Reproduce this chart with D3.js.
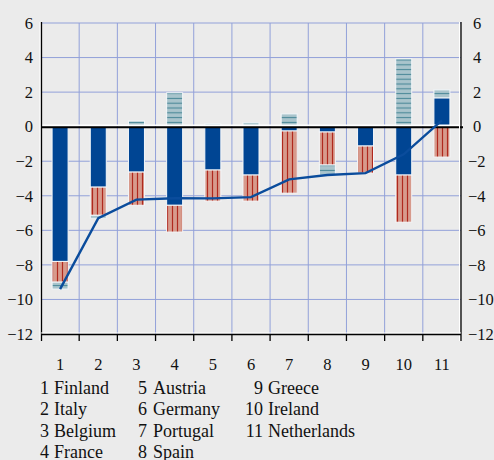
<!DOCTYPE html>
<html>
<head>
<meta charset="utf-8">
<script src="https://cdn.jsdelivr.net/npm/d3@7"></script>
<style>
  body { margin: 0; background: #ebebeb; }
  svg text { font-family: "Liberation Serif", Tinos, "Times New Roman", Times, "DejaVu Serif", "Noto Serif", serif; }
</style>
</head>
<body>
<svg width="494" height="460"></svg>
<script>

// data
var countries = ["Finland", "Italy", "Belgium", "France", "Austria", "Germany",
                 "Portugal", "Spain", "Greece", "Ireland", "Netherlands"];
var codes = [1, 2, 3, 4, 5, 6, 7, 8, 9, 10, 11];

var blueVals = [-7.8, -3.5, -2.63, -4.55, -2.51, -2.8, -0.25, -0.31, -1.12, -2.8, 1.67];
var redVals = [-1.2, -1.63, -1.92, -1.55, -1.8, -1.51, -3.6, -1.91, -1.57, -2.73, -1.76];
var tealVals = [-0.4, -0.17, 0.33, 1.96, 0.16, 0.23, 0.74, -0.58, 0, 3.93, 0.46];
var totalVals = [-9.4, -5.3, -4.22, -4.14, -4.15, -4.08, -3.05, -2.8, -2.69, -1.6, 0.37];

var yTicks = [-12, -10, -8, -6, -4, -2, 0, 2, 4, 6];

var rows = codes.map(function(c, i){
    return {code: c, blue: blueVals[i], red: redVals[i], teal: tealVals[i]};
});

var svg = d3.select('svg');

svg.append("rect").attr("width", 494).attr("height", 460).attr("fill", "#ebebeb");

var scaleX = d3.scaleBand().domain(codes).range([41, 461]).padding(0);
var scaleY = d3.scaleLinear().domain([-12, 6]).range([334, 23]);

// hatch patterns
var defs = svg.append("defs");
var pRed = defs.append("pattern").attr("id", "hatchRed")
    .attr("patternUnits", "userSpaceOnUse").attr("width", 5).attr("height", 10);
pRed.append("rect").attr("width", 5).attr("height", 10).attr("fill", "#d79a8c");
pRed.append("line").attr("x1", 2.5).attr("x2", 2.5).attr("y1", 0).attr("y2", 10)
    .attr("stroke", "#b0281d").attr("stroke-width", 1.2);

var pTeal = defs.append("pattern").attr("id", "hatchTeal")
    .attr("patternUnits", "userSpaceOnUse").attr("width", 10).attr("height", 4.8);
pTeal.append("rect").attr("width", 10).attr("height", 4.8).attr("fill", "#a9c4cc");
pTeal.append("line").attr("x1", 0).attr("x2", 10).attr("y1", 2.4).attr("y2", 2.4)
    .attr("stroke", "#4b8898").attr("stroke-width", 1.1);

// grid
var grid = svg.append("g");
grid.selectAll(".hgrid")
    .data(yTicks.filter(function(d){ return d > -12 && d != 0; }))
    .enter().append("line")
    .attr("x1", 41).attr("x2", 461)
    .attr("y1", function(d){ return scaleY(d); })
    .attr("y2", function(d){ return scaleY(d); })
    .attr("stroke", "#92a1d9").attr("stroke-width", 1);

grid.selectAll(".vgrid")
    .data(codes.slice(1))
    .enter().append("line")
    .attr("x1", function(d){ return scaleX(d); })
    .attr("x2", function(d){ return scaleX(d); })
    .attr("y1", scaleY(6)).attr("y2", scaleY(-12))
    .attr("stroke", "#92a1d9").attr("stroke-width", 1);

// stacked bars
var keys = ["blue", "red", "teal"];
var fills = {blue: "#004593", red: "url(#hatchRed)", teal: "url(#hatchTeal)"};

var stacked = d3.stack().keys(keys).offset(d3.stackOffsetDiverging)(rows);

var barW = 16;

svg.append("g").selectAll("g")
    .data(stacked)
    .enter().append("g")
    .attr("fill", function(d){ return fills[d.key]; })
    .selectAll("rect")
    .data(function(d){ return d; })
    .enter().append("rect")
    .attr("x", function(d){ return scaleX(d.data.code) + scaleX.bandwidth() / 2 - barW / 2; })
    .attr("y", function(d){ return scaleY(Math.max(d[0], d[1])); })
    .attr("width", barW)
    .attr("height", function(d){ return Math.abs(scaleY(d[0]) - scaleY(d[1])); })
    .attr("stroke", function(d){ return Math.abs(d[1] - d[0]) > 0 ? "#f4f7fa" : "none"; })
    .attr("stroke-width", 1);

// zero line
svg.append("line")
    .attr("x1", 41).attr("x2", 463)
    .attr("y1", scaleY(0) - 1.5).attr("y2", scaleY(0) - 1.5)
    .attr("stroke", "#ffffff").attr("stroke-width", 1.5);
svg.append("line")
    .attr("x1", 41).attr("x2", 463)
    .attr("y1", scaleY(0) + 0.5).attr("y2", scaleY(0) + 0.5)
    .attr("stroke", "#000000").attr("stroke-width", 2);

// total line
var line = d3.line()
    .x(function(d, i){ return scaleX(codes[i]) + scaleX.bandwidth() / 2; })
    .y(function(d){ return scaleY(d); });

svg.append("path")
    .datum(totalVals)
    .attr("d", line)
    .attr("fill", "none")
    .attr("stroke", "#0a4c9c")
    .attr("stroke-width", 2.4);

// axes
var axisG = svg.append("g");
axisG.append("line").attr("x1", 40).attr("x2", 40).attr("y1", 22).attr("y2", 341)
    .attr("stroke", "#fff").attr("stroke-width", 1);
axisG.append("line").attr("x1", 41.5).attr("x2", 41.5).attr("y1", 22).attr("y2", 341)
    .attr("stroke", "#000").attr("stroke-width", 1.3);
axisG.append("line").attr("x1", 459.5).attr("x2", 459.5).attr("y1", 22).attr("y2", 341)
    .attr("stroke", "#fff").attr("stroke-width", 1);
axisG.append("line").attr("x1", 461).attr("x2", 461).attr("y1", 22).attr("y2", 341)
    .attr("stroke", "#000").attr("stroke-width", 1.3);
axisG.append("line").attr("x1", 41).attr("x2", 461).attr("y1", 333).attr("y2", 333)
    .attr("stroke", "#fff").attr("stroke-width", 1);
axisG.append("line").attr("x1", 41).attr("x2", 461).attr("y1", 334.5).attr("y2", 334.5)
    .attr("stroke", "#000").attr("stroke-width", 1.3);

// x ticks
axisG.selectAll(".xtick")
    .data(codes.slice(1))
    .enter().append("line")
    .attr("x1", function(d){ return scaleX(d); })
    .attr("x2", function(d){ return scaleX(d); })
    .attr("y1", 334).attr("y2", 341)
    .attr("stroke", "#000").attr("stroke-width", 1.3);

svg.append("g")
    .call(d3.axisBottom(scaleX).tickSize(0).tickPadding(0))
    .attr("font-family", null)
    .call(function(g){ g.select(".domain").remove(); })
    .selectAll("text")
    .attr("y", scaleY(-12) + 24)
    .attr("font-size", 16.5)
    .attr("fill", "#111");

// left axis labels
svg.append("g")
    .attr("transform", "translate(41,0)")
    .call(d3.axisLeft(scaleY).tickValues(yTicks).tickSize(0).tickPadding(8))
    .attr("font-family", null)
    .call(function(g){ g.select(".domain").remove(); })
    .selectAll("text")
    .attr("font-size", 16.5)
    .attr("fill", "#111");

// right axis labels (minus sign hangs left)
svg.append("g")
    .attr("transform", "translate(461,0)")
    .call(d3.axisRight(scaleY).tickValues(yTicks).tickSize(0).tickPadding(8))
    .attr("font-family", null)
    .call(function(g){ g.select(".domain").remove(); })
    .selectAll("text")
    .attr("x", function(d){ return d < 0 ? 7 : 12; })
    .attr("font-size", 16.5)
    .attr("fill", "#111");

// country key
var keyCols = [[0, 4], [4, 8], [8, 11]];
var numRight = [49, 147, 263];
var nameLeft = [54, 153, 268];

keyCols.forEach(function(c, ci){
    var items = codes.slice(c[0], c[1]);
    var g = svg.append("g");
    items.forEach(function(code, j){
        var yy = 394 + j * 21.3;
        g.append("text")
            .attr("x", numRight[ci]).attr("y", yy)
            .attr("text-anchor", "end")
            .attr("font-size", 18)
            .attr("fill", "#111")
            .text(code);
        g.append("text")
            .attr("x", nameLeft[ci]).attr("y", yy)
            .attr("font-size", 18)
            .attr("fill", "#111")
            .text(countries[code - 1]);
    });
});

</script>
</body>
</html>
